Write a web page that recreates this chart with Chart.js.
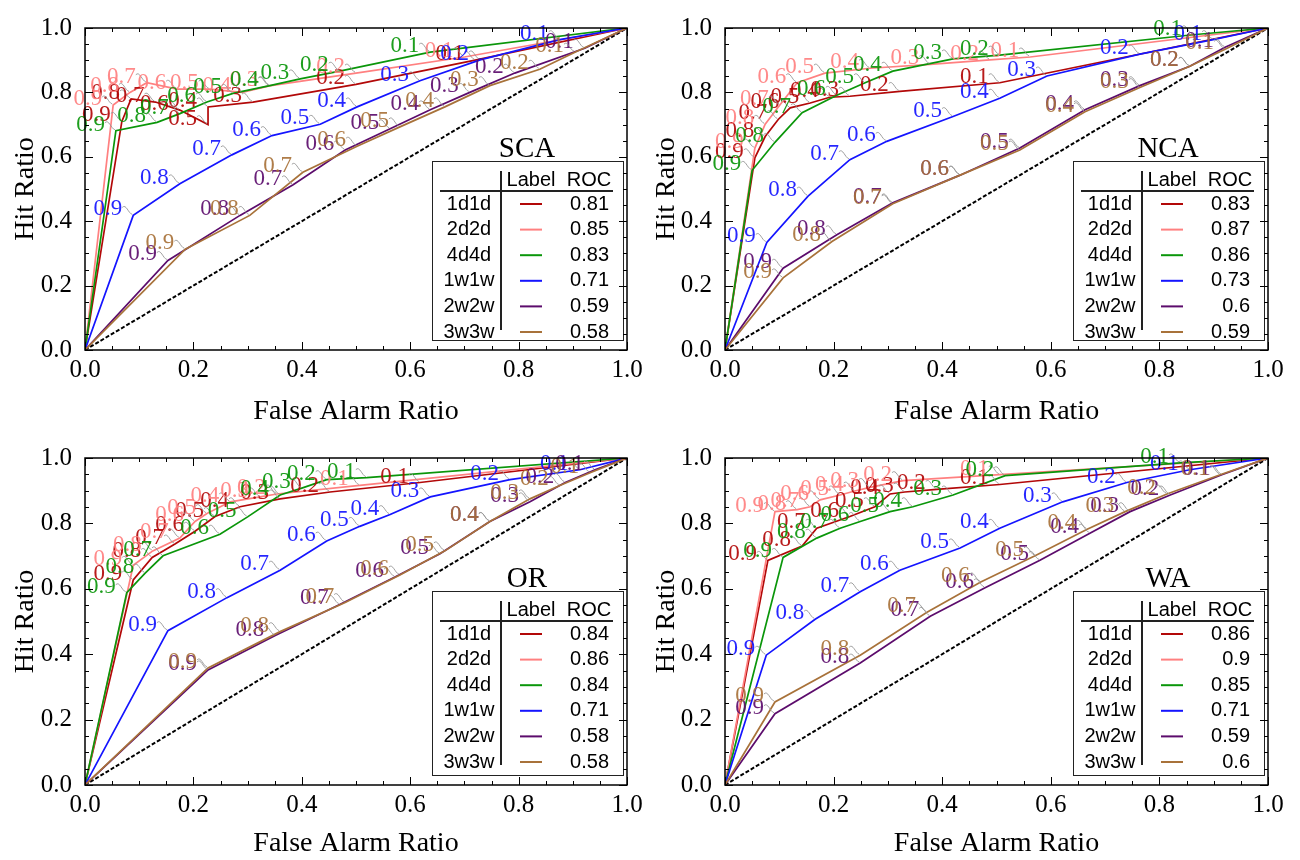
<!DOCTYPE html>
<html>
<head>
<meta charset="utf-8">
<script src="https://cdn.jsdelivr.net/npm/chart.js@4.4.1/dist/chart.umd.min.js"></script>
<style>
  body { margin: 0; background: #fff; }
  #grid { position: relative; width: 1300px; height: 860px; }
  .panel { position: absolute; width: 650px; height: 430px; }
</style>
</head>
<body>
<div id="grid">
  <div class="panel" style="left:0;top:0"><canvas id="c_sca" width="650" height="430"></canvas></div>
  <div class="panel" style="left:650px;top:0"><canvas id="c_nca" width="650" height="430"></canvas></div>
  <div class="panel" style="left:0;top:430px"><canvas id="c_or" width="650" height="430"></canvas></div>
  <div class="panel" style="left:650px;top:430px"><canvas id="c_wa" width="650" height="430"></canvas></div>
</div>
<script>
// probability thresholds marked along every curve
const thresholds = ['0.9', '0.8', '0.7', '0.6', '0.5', '0.4', '0.3', '0.2', '0.1'];
const leadNames = ['1d1d', '2d2d', '4d4d', '1w1w', '2w2w', '3w3w'];
const lineColors = ['rgb(178,8,8)', 'rgb(255,128,128)', 'rgb(10,150,10)', 'rgb(20,20,255)', 'rgb(92,12,108)', 'rgb(168,114,58)'];

// area under curve per lead
const scaROC = [0.81, 0.85, 0.83, 0.71, 0.59, 0.58];
const ncaROC = [0.83, 0.87, 0.86, 0.73, 0.6, 0.59];
const orROC  = [0.84, 0.86, 0.84, 0.71, 0.58, 0.58];
const waROC  = [0.86, 0.9, 0.85, 0.71, 0.59, 0.6];

// false alarm ratio / hit ratio, one row per lead, one column per threshold
const scaFar = [
  [0.068, 0.085, 0.13, 0.175, 0.227, 0.227, 0.31, 0.50, 0.72],
  [0.052, 0.083, 0.114, 0.17, 0.23, 0.29, 0.34, 0.50, 0.70],
  [0.057, 0.133, 0.175, 0.225, 0.273, 0.341, 0.397, 0.470, 0.637],
  [0.089, 0.175, 0.271, 0.345, 0.434, 0.502, 0.618, 0.729, 0.876],
  [0.153, 0.286, 0.384, 0.480, 0.563, 0.637, 0.710, 0.793, 0.922],
  [0.185, 0.304, 0.402, 0.502, 0.581, 0.664, 0.747, 0.839, 0.904]
];
const scaHit = [
  [0.71, 0.78, 0.77, 0.745, 0.70, 0.755, 0.77, 0.825, 0.90],
  [0.761, 0.80, 0.83, 0.81, 0.81, 0.80, 0.82, 0.86, 0.91],
  [0.681, 0.707, 0.734, 0.770, 0.797, 0.821, 0.842, 0.866, 0.925],
  [0.418, 0.516, 0.606, 0.666, 0.701, 0.755, 0.836, 0.901, 0.964],
  [0.278, 0.418, 0.513, 0.621, 0.687, 0.746, 0.800, 0.860, 0.937],
  [0.313, 0.418, 0.552, 0.633, 0.693, 0.755, 0.821, 0.872, 0.925]
];

const ncaFar = [
  [0.055, 0.074, 0.098, 0.120, 0.157, 0.193, 0.230, 0.322, 0.506],
  [0.055, 0.074, 0.101, 0.133, 0.184, 0.267, 0.378, 0.488, 0.562],
  [0.050, 0.092, 0.142, 0.206, 0.258, 0.309, 0.420, 0.506, 0.862],
  [0.077, 0.153, 0.230, 0.298, 0.420, 0.506, 0.593, 0.764, 0.899],
  [0.107, 0.206, 0.309, 0.433, 0.543, 0.663, 0.764, 0.856, 0.921],
  [0.107, 0.197, 0.309, 0.433, 0.543, 0.663, 0.764, 0.856, 0.921]
];
const ncaHit = [
  [0.597, 0.663, 0.716, 0.752, 0.767, 0.785, 0.788, 0.803, 0.830],
  [0.627, 0.701, 0.761, 0.830, 0.860, 0.875, 0.887, 0.901, 0.910],
  [0.558, 0.645, 0.737, 0.791, 0.830, 0.866, 0.904, 0.916, 0.979],
  [0.334, 0.478, 0.591, 0.648, 0.725, 0.782, 0.851, 0.919, 0.964],
  [0.254, 0.358, 0.457, 0.543, 0.627, 0.746, 0.821, 0.881, 0.940],
  [0.224, 0.337, 0.454, 0.543, 0.621, 0.740, 0.815, 0.881, 0.934]
];

const orFar = [
  [0.089, 0.124, 0.166, 0.203, 0.240, 0.286, 0.360, 0.452, 0.618],
  [0.089, 0.125, 0.175, 0.203, 0.225, 0.268, 0.323, 0.354, 0.507],
  [0.077, 0.111, 0.144, 0.249, 0.30, 0.36, 0.40, 0.446, 0.52],
  [0.153, 0.262, 0.360, 0.446, 0.507, 0.563, 0.637, 0.784, 0.913],
  [0.227, 0.351, 0.470, 0.572, 0.655, 0.747, 0.821, 0.886, 0.941],
  [0.227, 0.360, 0.480, 0.581, 0.664, 0.747, 0.821, 0.876, 0.932]
];
const orHit = [
  [0.627, 0.696, 0.737, 0.776, 0.821, 0.851, 0.875, 0.896, 0.925],
  [0.672, 0.716, 0.755, 0.806, 0.830, 0.866, 0.881, 0.890, 0.916],
  [0.588, 0.648, 0.701, 0.767, 0.82, 0.887, 0.908, 0.934, 0.94],
  [0.472, 0.573, 0.657, 0.746, 0.791, 0.827, 0.881, 0.934, 0.964],
  [0.352, 0.457, 0.552, 0.636, 0.707, 0.806, 0.866, 0.925, 0.964],
  [0.358, 0.469, 0.558, 0.642, 0.716, 0.806, 0.875, 0.916, 0.955]
];

const waFar = [
  [0.079, 0.142, 0.169, 0.230, 0.276, 0.304, 0.331, 0.390, 0.506],
  [0.092, 0.133, 0.157, 0.175, 0.212, 0.239, 0.267, 0.328, 0.506],
  [0.107, 0.169, 0.212, 0.249, 0.304, 0.346, 0.420, 0.516, 0.838],
  [0.076, 0.166, 0.249, 0.322, 0.433, 0.506, 0.622, 0.740, 0.856],
  [0.092, 0.249, 0.378, 0.479, 0.580, 0.672, 0.746, 0.820, 0.915],
  [0.092, 0.249, 0.372, 0.471, 0.571, 0.667, 0.737, 0.814, 0.912]
];
const waHit = [
  [0.687, 0.731, 0.785, 0.821, 0.851, 0.890, 0.896, 0.904, 0.919],
  [0.836, 0.842, 0.851, 0.872, 0.887, 0.899, 0.910, 0.931, 0.949],
  [0.696, 0.755, 0.785, 0.806, 0.836, 0.851, 0.887, 0.946, 0.985],
  [0.397, 0.507, 0.591, 0.657, 0.725, 0.785, 0.866, 0.925, 0.964],
  [0.218, 0.373, 0.516, 0.603, 0.687, 0.770, 0.836, 0.887, 0.949],
  [0.254, 0.397, 0.528, 0.621, 0.701, 0.782, 0.836, 0.890, 0.949]
];

const SERIF = '"Liberation Serif", "DejaVu Serif", serif';
const SANS = '"Liberation Sans", Arial, sans-serif';

// L/R/T/B fix the plot frame inside each 650x430 canvas
const panels = [
  { id: 'c_sca', region: 'SCA', far: scaFar, hit: scaHit, roc: scaROC, L: 85, R: 23, T: 15, B: 80, yPad: 9, xPad: 2 },
  { id: 'c_nca', region: 'NCA', far: ncaFar, hit: ncaHit, roc: ncaROC, L: 75, R: 32, T: 15, B: 80, yPad: 0, xPad: 2 },
  { id: 'c_or',  region: 'OR',  far: orFar,  hit: orHit,  roc: orROC,  L: 85, R: 23, T: 20, B: 75, yPad: 9, xPad: 0 },
  { id: 'c_wa',  region: 'WA',  far: waFar,  hit: waHit,  roc: waROC,  L: 75, R: 32, T: 20, B: 75, yPad: 0, xPad: 0 }
];

// frame with inward ticks on all four sides, threshold callouts and the ROC table
const rocDecor = {
  id: 'rocDecor',
  afterDatasetsDraw(chart, args, opts) {
    const ctx = chart.ctx;
    const a = chart.chartArea;
    const xs = chart.scales.x, ys = chart.scales.y;
    const p = opts.panel;

    // threshold labels with a small grey leader to the point
    ctx.save();
    ctx.font = '23px ' + SERIF;
    ctx.textAlign = 'right';
    ctx.textBaseline = 'alphabetic';
    for (let i = 0; i < leadNames.length; i++) {
      for (let k = 0; k < thresholds.length; k++) {
        const px = xs.getPixelForValue(p.far[i][k]);
        const py = ys.getPixelForValue(p.hit[i][k]);
        ctx.strokeStyle = 'rgba(150,150,150,0.9)';
        ctx.lineWidth = 1;
        ctx.beginPath();
        ctx.moveTo(px - 11, py - 8);
        ctx.bezierCurveTo(px - 7, py - 12, px - 5, py - 2, px - 1, py - 1);
        ctx.stroke();
        ctx.globalAlpha = 0.92;
        ctx.fillStyle = lineColors[i];
        ctx.fillText(thresholds[k], px - 11, py);
        ctx.globalAlpha = 1;
      }
    }
    ctx.restore();

    // ROC table in the lower right corner
    const bw = 191;
    const bx = a.right - 195;
    const by = a.top + 133;
    const bh = a.bottom - 10 - by;
    ctx.save();
    ctx.fillStyle = '#fff';
    ctx.fillRect(bx, by, bw, bh);
    ctx.strokeStyle = '#222';
    ctx.lineWidth = 1;
    ctx.strokeRect(bx + 0.5, by + 0.5, bw, bh);

    ctx.fillStyle = '#000';
    ctx.textAlign = 'center';
    ctx.textBaseline = 'middle';
    ctx.font = '29px ' + SERIF;
    ctx.fillText(p.region, bx + 95, by - 12);

    ctx.font = '20px ' + SANS;
    ctx.fillText('Label', bx + 99, by + 19);
    ctx.fillText('ROC', bx + 157, by + 19);
    ctx.lineWidth = 2;
    ctx.beginPath();
    ctx.moveTo(bx + 8, by + 30);
    ctx.lineTo(bx + 181, by + 30);
    ctx.moveTo(bx + 69, by + 10);
    ctx.lineTo(bx + 69, by + bh - 10);
    ctx.stroke();

    for (let r = 0; r < leadNames.length; r++) {
      const ry = by + 43 + r * 25.6;
      ctx.fillStyle = '#000';
      ctx.textAlign = 'center';
      ctx.fillText(leadNames[r], bx + 37, ry);
      ctx.textAlign = 'right';
      ctx.fillText(String(p.roc[r]), bx + 177, ry);
      ctx.strokeStyle = lineColors[r];
      ctx.lineWidth = 2;
      ctx.beginPath();
      ctx.moveTo(bx + 88, ry);
      ctx.lineTo(bx + 110, ry);
      ctx.stroke();
    }
    ctx.restore();
  },
  afterDraw(chart) {
    const ctx = chart.ctx;
    const a = chart.chartArea;
    const xs = chart.scales.x, ys = chart.scales.y;
    ctx.save();
    ctx.strokeStyle = '#000';
    ctx.lineWidth = 1.5;
    ctx.strokeRect(a.left, a.top, a.right - a.left, a.bottom - a.top);
    ctx.lineWidth = 1;
    ctx.beginPath();
    for (let n = 0; n <= 20; n++) {
      const v = n * 0.05;
      const len = n % 4 === 0 ? 8 : 4;
      const x = Math.round(xs.getPixelForValue(v)) + 0.5;
      const y = Math.round(ys.getPixelForValue(v)) + 0.5;
      ctx.moveTo(x, a.bottom); ctx.lineTo(x, a.bottom - len);
      ctx.moveTo(x, a.top); ctx.lineTo(x, a.top + len);
      ctx.moveTo(a.left, y); ctx.lineTo(a.left + len, y);
      ctx.moveTo(a.right, y); ctx.lineTo(a.right - len, y);
    }
    ctx.stroke();
    ctx.restore();
  }
};

function buildChart(p) {
  const datasets = leadNames.map((nm, i) => {
    const pts = [{ x: 0, y: 0 }];
    p.far[i].forEach((f, k) => pts.push({ x: f, y: p.hit[i][k] }));
    pts.push({ x: 1, y: 1 });
    return {
      label: nm,
      data: pts,
      borderColor: lineColors[i],
      borderWidth: 1.7,
      pointRadius: 0,
      fill: false,
      tension: 0,
      order: 6 - i
    };
  });
  // no-skill diagonal
  datasets.push({
    label: 'random',
    data: [{ x: 0, y: 0 }, { x: 1, y: 1 }],
    borderColor: '#000',
    borderWidth: 2,
    borderDash: [4, 2],
    pointRadius: 0,
    fill: false,
    order: 10
  });

  const tickFont = { family: SERIF, size: 25 };
  const titleFont = { family: SERIF, size: 28 };

  new Chart(document.getElementById(p.id), {
    type: 'line',
    data: { datasets: datasets },
    options: {
      responsive: false,
      animation: false,
      parsing: false,
      layout: { padding: { left: 0, right: p.R, top: p.T, bottom: 0 } },
      plugins: {
        legend: { display: false },
        tooltip: { enabled: false },
        rocDecor: { panel: p }
      },
      scales: {
        x: {
          type: 'linear', min: 0, max: 1,
          grid: { display: false, drawTicks: false },
          border: { display: false },
          ticks: { stepSize: 0.2, maxRotation: 0, padding: 5, color: '#000', font: tickFont,
                   callback: v => v.toFixed(1) },
          title: { display: true, text: 'False Alarm Ratio', color: '#000', font: titleFont,
                   padding: { top: 0, bottom: p.xPad } },
          afterFit: s => { s.height = p.B; }
        },
        y: {
          type: 'linear', min: 0, max: 1,
          grid: { display: false, drawTicks: false },
          border: { display: false },
          ticks: { stepSize: 0.2, padding: 13, color: '#000', font: tickFont,
                   callback: v => v.toFixed(1) },
          title: { display: true, text: 'Hit Ratio', color: '#000', font: titleFont,
                   padding: { top: p.yPad, bottom: 0 } },
          afterFit: s => { s.width = p.L; }
        }
      }
    },
    plugins: [rocDecor]
  });
}

panels.forEach(buildChart);
</script>
</body>
</html>
